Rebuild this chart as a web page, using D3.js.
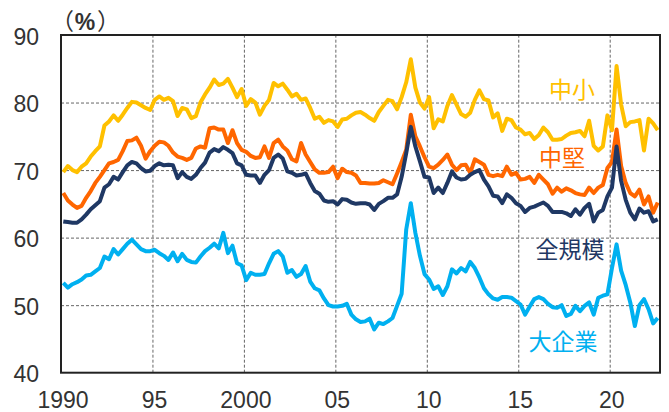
<!DOCTYPE html>
<html>
<head>
<meta charset="utf-8">
<script src="https://cdn.jsdelivr.net/npm/d3@7"></script>
<style>
  html, body { margin: 0; padding: 0; background: #fff; }
  svg { display: block; }
</style>
</head>
<body>
<svg id="chart" width="669" height="412"></svg>
<script>
// Quarterly ratios (%), first value = 1990 Q1, one value per quarter.
const startYear = 1990;

// 中小
const chusho = [
  69.7, 70.6, 70.0, 69.7, 70.5, 71.0, 72.0, 72.8, 73.5, 76.6,
  77.2, 78.1, 77.3, 78.2, 79.2, 80.1, 80.0, 79.6, 79.2, 78.9,
  80.4, 80.9, 80.4, 80.7, 80.2, 78.0, 79.2, 79.0, 77.7, 78.0,
  80.0, 81.2, 82.2, 83.4, 82.6, 82.8, 83.5, 82.2, 80.8, 82.0,
  79.5, 80.5, 80.0, 78.2, 79.5, 80.4, 82.9, 82.4, 82.8, 81.9,
  80.9, 81.3, 80.4, 80.6, 79.2, 77.6, 77.9, 77.0, 77.4, 77.2,
  76.4, 77.5, 77.6, 78.1, 78.5, 78.6, 78.2, 77.7, 77.3, 78.6,
  79.5, 80.4, 80.2, 79.0, 80.8, 83.0, 86.4, 82.2, 80.0, 79.1,
  80.8, 76.2, 77.5, 77.2, 79.5, 81.1, 79.7, 78.3, 77.9, 78.5,
  80.4, 81.8, 80.5, 80.3, 77.8, 78.4, 75.8, 77.6, 77.4, 76.3,
  76.0, 75.3, 75.5, 74.6, 75.2, 76.3, 75.6, 74.5, 74.5, 74.6,
  75.1, 75.5, 75.6, 75.8, 75.0, 77.3, 73.6, 72.9, 73.5, 78.1,
  75.9, 85.4, 79.7, 76.5, 77.1, 77.2, 77.4, 72.9, 77.6, 76.9,
  75.9
];

// 中堅
const chuken = [
  66.6, 65.5, 64.9, 64.4, 64.7, 65.9, 66.9, 68.1, 69.0, 70.0,
  71.0, 71.2, 71.5, 72.8, 74.3, 74.4, 74.8, 73.6, 71.7, 72.8,
  73.6, 74.2, 74.1, 73.6, 72.6, 72.0, 71.8, 71.5, 71.8, 73.2,
  73.5, 73.3, 76.2, 76.3, 76.0, 76.0, 74.0, 75.9, 74.0, 73.0,
  72.7, 72.1, 71.8, 71.9, 73.5, 71.8, 74.0, 74.5, 73.5, 72.9,
  71.6, 71.3, 74.0, 72.3, 71.2, 70.1, 69.6, 69.6, 69.7, 70.5,
  68.8, 70.2, 69.7, 69.6, 69.2, 68.1, 68.1, 68.0, 68.0, 68.1,
  68.5, 68.2, 67.9, 69.5, 71.2, 73.0, 78.2, 75.0, 73.5, 71.9,
  70.5, 70.3, 70.8, 71.5, 72.3, 70.8, 70.0, 70.7, 70.8, 69.6,
  71.6, 71.2, 70.8, 69.3, 69.1, 69.3, 69.1, 70.5, 69.3, 69.6,
  68.6, 68.7, 69.0, 68.1, 69.3, 68.6, 67.9, 66.5, 67.4, 66.8,
  67.3, 67.0, 66.6, 66.4, 66.3, 67.4, 66.6, 67.4, 67.8, 70.3,
  71.2, 76.0, 70.6, 68.1, 66.6, 66.1, 67.1, 64.9, 66.1, 63.7,
  65.2
];

// 全規模
const zenkibo = [
  62.4, 62.3, 62.2, 62.2, 62.7, 63.4, 64.2, 64.8, 65.4, 67.4,
  67.9, 69.0, 68.6, 69.7, 70.7, 71.2, 71.0, 70.3, 69.8, 69.9,
  70.6, 71.0, 70.7, 70.8, 70.7, 68.8, 69.7, 69.0, 68.7, 69.3,
  70.3, 71.1, 72.6, 73.1, 72.8, 73.4, 73.0, 72.5, 71.0, 70.7,
  69.3, 69.2, 69.2, 68.1, 69.3, 70.0, 71.8, 72.3, 71.7, 69.8,
  69.6, 69.2, 69.3, 69.5, 68.1, 66.9, 66.5, 65.5, 65.3, 65.4,
  64.9, 65.7, 65.6, 65.2, 65.0, 65.1, 65.1, 64.9, 64.1, 65.0,
  65.4, 65.9, 65.9, 66.4, 69.0, 72.5, 76.4, 73.5, 71.3, 69.0,
  68.9, 66.6, 67.4, 66.6, 68.1, 69.8, 68.9, 68.6, 68.7, 69.3,
  69.7, 70.0, 68.6, 67.6, 66.2, 66.1, 65.1, 66.4, 65.9, 65.1,
  64.7, 63.8, 64.4, 64.6, 64.9, 65.2, 64.7, 63.8, 63.8, 63.8,
  63.6, 63.2, 64.2, 63.4, 64.4, 65.0, 62.4, 63.7, 64.1, 66.1,
  67.4, 73.5, 68.4, 65.6, 63.7, 62.7, 64.3, 63.7, 63.9, 62.4,
  62.7
];

// 大企業
const daikigyo = [
  53.3, 52.6, 53.1, 53.4, 53.8, 54.4, 54.5, 55.0, 55.5, 57.2,
  56.8, 58.3, 57.5, 58.3, 59.1, 59.7, 59.0, 58.3, 58.0, 58.0,
  58.2, 57.7, 57.3, 56.7, 57.8, 56.5, 57.6, 56.7, 56.4, 56.3,
  57.2, 58.0, 58.5, 59.1, 58.4, 60.7, 57.7, 58.8, 56.2, 55.9,
  53.7, 54.8, 54.5, 54.5, 54.6, 56.2, 57.6, 58.0, 57.2, 54.8,
  55.2, 54.2, 54.6, 55.8, 53.5, 52.5, 52.2, 51.0, 50.0, 49.8,
  49.8, 49.9, 50.2, 48.6, 47.9, 47.5, 47.6, 48.0, 46.4, 47.4,
  47.2, 47.6, 48.1, 49.9, 51.7, 61.2, 65.1, 60.7, 57.3, 54.6,
  53.8, 52.4, 52.8, 51.5, 52.8, 55.3, 54.7, 55.5, 55.0, 56.4,
  55.5, 54.1, 52.5, 51.6, 51.0, 50.8, 51.2, 51.2, 51.1, 50.6,
  50.1, 48.6, 49.8, 50.9, 51.2, 50.9, 50.2, 49.7, 49.6, 50.0,
  48.4, 48.7, 49.9, 49.1, 49.9, 50.4, 48.6, 51.1, 51.4, 51.6,
  55.5, 59.0, 55.1, 53.0, 50.4, 46.9, 50.0, 50.9, 49.4, 47.3,
  48.1
];

const yTicks = [40, 50, 60, 70, 80, 90];
const xTickYears = [1990, 1995, 2000, 2005, 2010, 2015, 2020];
const xTickLabels = ["1990", "95", "2000", "05", "10", "15", "20"];

const series = [
  { name: "中小",   values: chusho,   color: "#FFC000", lx: 572, ly: 97.5 },
  { name: "中堅",   values: chuken,   color: "#FF6600", lx: 562, ly: 165.5 },
  { name: "全規模", values: zenkibo,  color: "#1F3864", lx: 570, ly: 258 },
  { name: "大企業", values: daikigyo, color: "#00B0F0", lx: 563, ly: 350 }
];

const svg = d3.select("#chart");
const plot = { left: 61, top: 35, right: 660, bottom: 372.7 };

const x = d3.scaleLinear().domain([1990, 2022.75]).range([plot.left, plot.right]);
const y = d3.scaleLinear().domain([40, 90]).range([plot.bottom, plot.top]);

const numFont = "'Liberation Sans', Arial, Helvetica, sans-serif";
const jpFont = "'Noto Sans CJK JP', 'Noto Sans', sans-serif";

// dashed grid
const grid = svg.append("g");
grid.append("g")
  .attr("transform", `translate(${plot.left},0)`)
  .call(d3.axisLeft(y).tickValues(yTicks.filter(v => v > 40 && v < 90))
    .tickSize(-(plot.right - plot.left)).tickFormat(""))
  .call(g => g.select(".domain").remove());
grid.append("g")
  .attr("transform", `translate(0,${plot.bottom})`)
  .call(d3.axisBottom(x).tickValues(xTickYears.filter(v => v > 1990))
    .tickSize(-(plot.bottom - plot.top)).tickFormat(""))
  .call(g => g.select(".domain").remove());
grid.selectAll("line")
  .attr("stroke", "#666")
  .attr("stroke-width", 1)
  .attr("stroke-dasharray", "3,2");

// tick labels
const yAxis = svg.append("g")
  .attr("transform", `translate(${plot.left},0)`)
  .call(d3.axisLeft(y).tickValues(yTicks).tickSize(0).tickPadding(22).tickFormat(d => d));
yAxis.select(".domain").remove();
yAxis.selectAll("text")
  .attr("dy", "0.4em")
  .attr("fill", "#333")
  .style("font-family", numFont)
  .style("font-size", "23px");

const xAxis = svg.append("g")
  .attr("transform", `translate(0,${plot.bottom})`)
  .call(d3.axisBottom(x).tickValues(xTickYears).tickSize(0).tickPadding(19)
    .tickFormat((d, i) => xTickLabels[i]));
xAxis.select(".domain").remove();
xAxis.selectAll("text")
  .attr("dx", 1.5)
  .attr("fill", "#333")
  .style("font-family", numFont)
  .style("font-size", "23px");

// lines
svg.append("defs").append("clipPath").attr("id", "plotClip")
  .append("rect")
  .attr("x", plot.left).attr("y", plot.top)
  .attr("width", plot.right - plot.left).attr("height", plot.bottom - plot.top);

const line = d3.line()
  .x((d, i) => x(startYear + (i + 0.5) / 4))
  .y(d => y(d));

const lines = svg.append("g").attr("clip-path", "url(#plotClip)");
lines.selectAll("path")
  .data(series)
  .join("path")
  .attr("d", d => line(d.values))
  .attr("fill", "none")
  .attr("stroke", d => d.color)
  .attr("stroke-width", 4)
  .attr("stroke-linejoin", "round");

// frame
svg.append("rect")
  .attr("x", plot.left).attr("y", plot.top)
  .attr("width", plot.right - plot.left).attr("height", plot.bottom - plot.top)
  .attr("fill", "none")
  .attr("stroke", "#222")
  .attr("stroke-width", 2);

// series names
svg.append("g").selectAll("text")
  .data(series)
  .join("text")
  .attr("x", d => d.lx)
  .attr("y", d => d.ly)
  .attr("text-anchor", "middle")
  .attr("fill", d => d.color)
  .style("font-family", jpFont)
  .style("font-size", "23px")
  .text(d => d.name);

// unit: full-width brackets around a bold percent sign
const unitGroup = svg.append("g").attr("fill", "#333");
unitGroup.append("text")
  .attr("x", 74).attr("y", 29.5)
  .attr("text-anchor", "end")
  .style("font-family", jpFont).style("font-size", "23px")
  .text("（");
unitGroup.append("text")
  .attr("x", 85).attr("y", 29.5)
  .attr("text-anchor", "middle")
  .style("font-family", numFont).style("font-size", "23px").style("font-weight", "bold")
  .text("%");
unitGroup.append("text")
  .attr("x", 97).attr("y", 29.5)
  .attr("text-anchor", "start")
  .style("font-family", jpFont).style("font-size", "23px")
  .text("）");
</script>
</body>
</html>
